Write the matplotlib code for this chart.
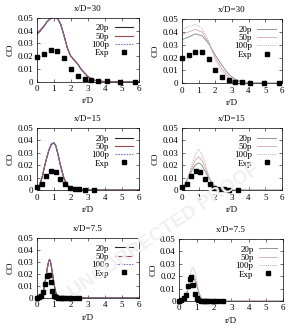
import matplotlib
matplotlib.use("Agg")
import matplotlib.pyplot as plt

plt.rcParams['font.family'] = ['Liberation Serif', 'DejaVu Serif']
plt.rcParams['font.size'] = 6.5

# ---- experimental data ----
exp_r30 = [0, 0.4, 0.8, 1.2, 1.6, 2.0, 2.4, 2.8, 3.2, 3.6, 4.1, 4.9, 5.8]
exp_c30 = [0.0195, 0.022, 0.0245, 0.024, 0.019, 0.010, 0.0045, 0.0022, 0.0012, 0.0008, 0.0005, 0.0002, 0.0001]

exp_r15 = [0, 0.29, 0.55, 0.84, 1.1, 1.37, 1.67, 1.94, 2.25, 2.5, 2.8, 3.35]
exp_c15 = [0.0025, 0.005, 0.011, 0.015, 0.0145, 0.009, 0.0045, 0.002, 0.001, 0.0005, 0.0003, 0.0001]

exp_r7 = [0, 0.12, 0.25, 0.38, 0.5, 0.6, 0.7, 0.8, 0.9, 1.0, 1.1, 1.25, 1.4, 1.5, 1.6, 1.75, 2.0, 2.25, 2.5]
exp_c7 = [0, 0.0005, 0.002, 0.005, 0.012, 0.018, 0.019, 0.013, 0.006, 0.002, 0.001, 0.0003, 0, 0, 0, 0, 0, 0, 0]

# ---- model results, left column ----
rL30 = [0, 0.2, 0.4, 0.6, 0.8, 1.0, 1.2, 1.4, 1.6, 1.8, 2.0, 2.2, 2.4, 2.6, 2.8, 3.0, 3.2, 3.4, 3.7, 4.0, 5.0, 6.0]
cL30_20 = [0.037, 0.040, 0.043, 0.047, 0.0495, 0.0505, 0.050, 0.045, 0.036, 0.026, 0.020, 0.017, 0.014, 0.010, 0.007, 0.004, 0.0025, 0.0012, 0.0005, 0.0002, 0, 0]
cL30_50 = [0.0375, 0.0405, 0.0435, 0.047, 0.0495, 0.0505, 0.0498, 0.0448, 0.0358, 0.026, 0.0198, 0.0168, 0.0138, 0.0098, 0.0068, 0.0039, 0.0024, 0.0011, 0.0005, 0.0002, 0, 0]
cL30_100 = [0.037, 0.040, 0.043, 0.047, 0.0495, 0.0505, 0.0499, 0.0449, 0.0359, 0.026, 0.0199, 0.0169, 0.0139, 0.0099, 0.0069, 0.0039, 0.0024, 0.0011, 0.0005, 0.0002, 0, 0]

rL15 = [0, 0.15, 0.3, 0.5, 0.7, 0.85, 1.0, 1.1, 1.2, 1.4, 1.6, 1.8, 2.0, 2.2, 2.4, 3.0, 6.0]
cL15_20 = [0.001, 0.004, 0.010, 0.022, 0.032, 0.037, 0.038, 0.036, 0.031, 0.019, 0.009, 0.004, 0.0015, 0.0006, 0.0002, 0, 0]
cL15_50 = [0.001, 0.004, 0.010, 0.022, 0.032, 0.037, 0.0382, 0.0362, 0.0312, 0.0192, 0.0091, 0.004, 0.0015, 0.0006, 0.0002, 0, 0]
cL15_100 = [0.001, 0.004, 0.010, 0.022, 0.032, 0.037, 0.0381, 0.0361, 0.0311, 0.0191, 0.009, 0.004, 0.0015, 0.0006, 0.0002, 0, 0]

rL7 = [0, 0.2, 0.3, 0.4, 0.5, 0.6, 0.7, 0.75, 0.8, 0.9, 1.0, 1.1, 1.2, 1.3, 1.4, 2.0, 6.0]
cL7_20 = [0, 0.0005, 0.002, 0.007, 0.015, 0.024, 0.031, 0.032, 0.030, 0.022, 0.012, 0.005, 0.0015, 0.0004, 0, 0, 0]
cL7_50 = [0, 0.0005, 0.002, 0.007, 0.015, 0.024, 0.0312, 0.0322, 0.0302, 0.0222, 0.0122, 0.0051, 0.0015, 0.0004, 0, 0, 0]
cL7_100 = [0, 0.0005, 0.002, 0.007, 0.015, 0.024, 0.0311, 0.0321, 0.0301, 0.0221, 0.0121, 0.005, 0.0015, 0.0004, 0, 0, 0]

# ---- model results, right column ----
rR30 = [0, 0.4, 0.8, 1.2, 1.6, 2.0, 2.4, 2.8, 3.2, 3.6, 4.0, 5.0, 6.0]
cR30_20 = [0.034, 0.036, 0.0385, 0.037, 0.031, 0.022, 0.014, 0.007, 0.003, 0.0012, 0.0005, 0, 0]
cR30_50 = [0.038, 0.040, 0.042, 0.040, 0.032, 0.020, 0.011, 0.005, 0.002, 0.0007, 0.0003, 0, 0]
cR30_100 = [0.042, 0.044, 0.046, 0.043, 0.033, 0.018, 0.009, 0.004, 0.0015, 0.0005, 0.0002, 0, 0]

rR15 = [0, 0.2, 0.4, 0.6, 0.8, 1.0, 1.2, 1.4, 1.6, 1.8, 2.0, 2.2, 2.4, 3.0, 6.0]
cR15_20 = [0.002, 0.005, 0.010, 0.016, 0.020, 0.022, 0.020, 0.015, 0.010, 0.006, 0.003, 0.0015, 0.0008, 0, 0]
cR15_50 = [0.002, 0.005, 0.011, 0.018, 0.024, 0.027, 0.024, 0.018, 0.011, 0.006, 0.003, 0.0012, 0.0006, 0, 0]
cR15_100 = [0.002, 0.005, 0.012, 0.021, 0.029, 0.033, 0.029, 0.021, 0.012, 0.006, 0.003, 0.0011, 0.0005, 0, 0]

rR7 = [0, 0.2, 0.3, 0.4, 0.5, 0.6, 0.7, 0.8, 0.9, 1.0, 1.1, 1.2, 1.3, 1.4, 1.6, 2.0, 6.0]
cR7_20 = [0, 0.0005, 0.002, 0.005, 0.009, 0.013, 0.0165, 0.018, 0.0165, 0.013, 0.008, 0.004, 0.0015, 0.0005, 0, 0, 0]
cR7_50 = [0, 0.0005, 0.002, 0.005, 0.010, 0.015, 0.019, 0.021, 0.019, 0.014, 0.008, 0.004, 0.0015, 0.0005, 0, 0, 0]
cR7_100 = [0, 0.0005, 0.002, 0.006, 0.012, 0.019, 0.025, 0.027, 0.024, 0.017, 0.009, 0.004, 0.0015, 0.0005, 0, 0, 0]

titles = ["x/D=30", "x/D=15", "x/D=7.5"]
labels = ["20p", "50p", "100p"]
yticks = [0, 0.01, 0.02, 0.03, 0.04, 0.05]
yticklabels = ["0", "0.01", "0.02", "0.03", "0.04", "0.05"]

left_cols = ["#2a2a2a", "#a0474a", "#7a78c0"]
right_cols = ["#808080", "#d9a6a6", "#b8b8b8"]

panels = [
    # (position, r, [c20, c50, c100], exp_r, exp_c, title, colours, linewidth)
    ([0.126, 0.752, 0.348, 0.194], rL30, [cL30_20, cL30_50, cL30_100], exp_r30, exp_c30, titles[0], left_cols, 0.8),
    ([0.621, 0.748, 0.341, 0.194], rR30, [cR30_20, cR30_50, cR30_100], exp_r30, exp_c30, titles[0], right_cols, 0.6),
    ([0.126, 0.424, 0.348, 0.188], rL15, [cL15_20, cL15_50, cL15_100], exp_r15, exp_c15, titles[1], left_cols, 0.8),
    ([0.621, 0.424, 0.341, 0.188], rR15, [cR15_20, cR15_50, cR15_100], exp_r15, exp_c15, titles[1], right_cols, 0.6),
    ([0.126, 0.097, 0.348, 0.182], rL7, [cL7_20, cL7_50, cL7_100], exp_r7, exp_c7, titles[2], left_cols, 0.8),
    ([0.612, 0.088, 0.355, 0.188], rR7, [cR7_20, cR7_50, cR7_100], exp_r7, exp_c7, titles[2], right_cols, 0.6),
]

fig = plt.figure(figsize=(2.93, 3.30), dpi=100)

# faint watermark as in the source page
fig.text(0.56, 0.30, "UNCORRECTED PROOF", rotation=34, fontsize=14, color='#f0f0f0',
         ha='center', va='center', zorder=0, fontweight='bold',
         family='Liberation Sans')

for pos, r, curves, er, ec, title, cols, lw in panels:
    ax = fig.add_axes(pos)
    ax.patch.set_alpha(0)
    styles = ['-', '-', (0, (1.5, 1))]
    for c, lab, col, ls in zip(curves, labels, cols, styles):
        ax.plot(r, c, color=col, lw=lw, ls=ls, label=lab, clip_on=True)
    ax.plot(er, ec, 's', color='black', ms=3.3, label='Exp', clip_on=False, zorder=5)
    ax.set_xlim(0, 6)
    ax.set_ylim(0, 0.05)
    ax.set_xticks(range(7))
    ax.set_yticks(yticks)
    ax.set_yticklabels(yticklabels)
    ax.tick_params(direction='in', length=2, width=0.4, top=True, right=True, pad=2.5, labelsize=6.5)
    for s in ax.spines.values():
        s.set_linewidth(0.5)
    ax.set_title(title, fontsize=6.5, pad=5)
    ax.set_xlabel("r/D", fontsize=6.5, labelpad=3)
    ax.set_ylabel("CO", fontsize=6.5, labelpad=2)
    ax.legend(loc='upper right', frameon=False, markerfirst=False, fontsize=6.5,
              handlelength=2.0, handletextpad=0.6, labelspacing=0.0,
              borderaxespad=0.5, borderpad=0.2, alignment='right')

fig.savefig("out.png", dpi=100)
